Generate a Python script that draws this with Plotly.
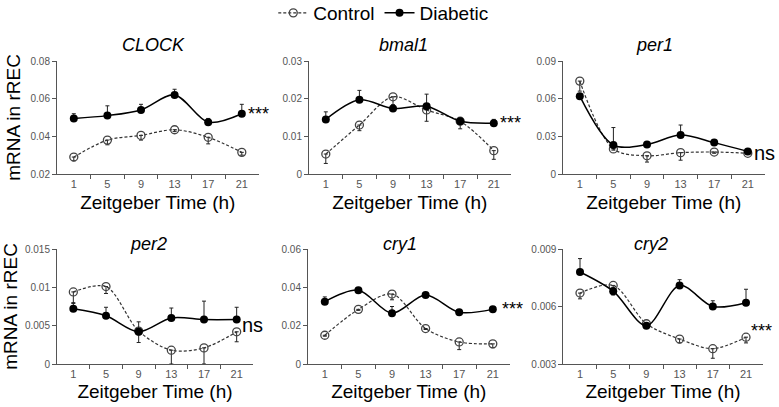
import plotly.graph_objects as go

W, H = 779, 407

zt = [1, 5, 9, 13, 17, 21]
genes = ["CLOCK", "bmal1", "per1", "per2", "cry1", "cry2"]

clock_diab = [0.0495, 0.051, 0.054, 0.062, 0.0475, 0.052]
clock_diab_err = [0.0025, 0.0052, 0.003, 0.003, 0.002, 0.005]
clock_ctrl = [0.029, 0.038, 0.0405, 0.0435, 0.0395, 0.0315]
clock_ctrl_err = [0.002, 0.0025, 0.0025, 0.001, 0.0035, 0.0015]

bmal1_diab = [0.0145, 0.0197, 0.0174, 0.018, 0.014, 0.0135]
bmal1_diab_err = [0.002, 0.0025, 0.001, 0.0032, 0.0005, 0.001]
bmal1_ctrl = [0.0053, 0.013, 0.0205, 0.017, 0.014, 0.0062]
bmal1_ctrl_err = [0.0025, 0.0015, 0.003, 0.003, 0.002, 0.0023]

per1_diab = [0.062, 0.023, 0.0235, 0.031, 0.025, 0.018]
per1_diab_err = [0.001, 0.014, 0.001, 0.008, 0.001, 0.001]
per1_ctrl = [0.074, 0.020, 0.0145, 0.017, 0.0175, 0.0165]
per1_ctrl_err = [0.008, 0.001, 0.005, 0.006, 0.001, 0.001]

per2_diab = [0.0072, 0.0063, 0.0042, 0.0060, 0.0058, 0.0058]
per2_diab_err = [0.0008, 0.0011, 0.0013, 0.0013, 0.0024, 0.0016]
per2_ctrl = [0.0094, 0.0101, 0.0043, 0.0018, 0.0021, 0.0042]
per2_ctrl_err = [0.0015, 0.0009, 0.0015, 0.0018, 0.0021, 0.0013]

cry1_diab = [0.0325, 0.0385, 0.0265, 0.036, 0.027, 0.0285]
cry1_diab_err = [0.0025, 0.001, 0.0035, 0.0005, 0.0005, 0.0005]
cry1_ctrl = [0.015, 0.0285, 0.0365, 0.0185, 0.0115, 0.0105]
cry1_ctrl_err = [0.0005, 0.0005, 0.003, 0.0005, 0.004, 0.002]

cry2_diab = [0.0078, 0.0068, 0.0050, 0.0071, 0.0060, 0.0062]
cry2_diab_err = [0.0007, 0.0002, 0.0001, 0.0003, 0.0003, 0.0007]
cry2_ctrl = [0.0067, 0.0071, 0.0051, 0.0043, 0.0038, 0.0044]
cry2_ctrl_err = [0.0003, 0.0005, 0.0001, 0.0002, 0.0005, 0.0003]

y_ticks = [
    ([0.02, 0.04, 0.06, 0.08], ["0.02", "0.04", "0.06", "0.08"]),
    ([0, 0.01, 0.02, 0.03], ["0", "0.01", "0.02", "0.03"]),
    ([0, 0.03, 0.06, 0.09], ["0", "0.03", "0.06", "0.09"]),
    ([0, 0.005, 0.01, 0.015], ["0", "0.005", "0.01", "0.015"]),
    ([0, 0.02, 0.04, 0.06], ["0", "0.02", "0.04", "0.06"]),
    ([0.003, 0.006, 0.009], ["0.003", "0.006", "0.009"]),
]
sig_labels = ["***", "***", "ns", "ns", "***", "***"]

diab = [clock_diab, bmal1_diab, per1_diab, per2_diab, cry1_diab, cry2_diab]
diab_err = [clock_diab_err, bmal1_diab_err, per1_diab_err, per2_diab_err, cry1_diab_err, cry2_diab_err]
ctrl = [clock_ctrl, bmal1_ctrl, per1_ctrl, per2_ctrl, cry1_ctrl, cry2_ctrl]
ctrl_err = [clock_ctrl_err, bmal1_ctrl_err, per1_ctrl_err, per2_ctrl_err, cry1_ctrl_err, cry2_ctrl_err]

# layout in pixels (left, right, top, bottom)
boxes = [
    (57, 258.6, 61, 174), (309, 510.6, 61, 174), (563, 764.6, 61, 174),
    (57, 253, 249, 364), (308, 509.6, 249, 364), (563.4, 762.6, 249, 364),
]
title_pos = [(153, 45), (403, 45), (654, 45), (148, 244), (400, 244), (651, 244)]
sig_pos = [(247, 0.052), (499, 0.0135), (753, 0.0167), (241, 0.0051), (501, 0.0285), (750, 0.0047)]

FONT = "Liberation Sans, Arial, sans-serif"
fig = go.Figure()
layout = dict(
    width=W, height=H, margin=dict(l=0, r=0, t=0, b=0, autoexpand=False),
    paper_bgcolor="white", plot_bgcolor="white",
    font=dict(family=FONT, color="black"),
    showlegend=True,
    legend=dict(orientation="h", xref="container", yref="container",
                x=0.492, xanchor="center", y=1 - 13 / H, yanchor="middle",
                font=dict(size=19, family=FONT), itemwidth=30, tracegroupgap=0,
                bgcolor="rgba(0,0,0,0)"),
)
annotations = []

for i, g in enumerate(genes):
    n = i + 1
    xa = "x" if n == 1 else f"x{n}"
    ya = "y" if n == 1 else f"y{n}"
    l, r, t, b = boxes[i]
    yv, yt = y_ticks[i]
    fig.add_trace(go.Scatter(
        x=zt, y=ctrl[i], xaxis=xa, yaxis=ya, name="Control", showlegend=(i == 0),
        mode="lines+markers", line=dict(color="#333333", width=1.2, dash="3px,2px", shape="spline", smoothing=0.9),
        marker=dict(symbol="circle-open", size=8, color="#444444", line=dict(width=1.3)),
        error_y=dict(type="data", symmetric=False, array=[0] * 6, arrayminus=ctrl_err[i],
                     color="#222222", thickness=1, width=2),
        cliponaxis=False,
    ))
    fig.add_trace(go.Scatter(
        x=zt, y=diab[i], xaxis=xa, yaxis=ya, name="Diabetic", showlegend=(i == 0),
        mode="lines+markers", line=dict(color="black", width=1.5, shape="spline", smoothing=0.9),
        marker=dict(symbol="circle", size=8, color="black"),
        error_y=dict(type="data", symmetric=False, array=diab_err[i], arrayminus=[0] * 6,
                     color="#222222", thickness=1, width=2),
        cliponaxis=False,
    ))
    xkey = "xaxis" if n == 1 else f"xaxis{n}"
    ykey = "yaxis" if n == 1 else f"yaxis{n}"
    layout[xkey] = dict(
        domain=[l / W, r / W], anchor=ya, range=[-1, 23],
        tickvals=zt, ticktext=[str(v) for v in zt], ticks="",
        tickfont=dict(size=11, color="#555555", family=FONT),
        showline=True, linecolor="#555555", linewidth=1, showgrid=False, zeroline=False,
        minor=dict(tickvals=[3, 7, 11, 15, 19], ticks="outside", ticklen=4, tickcolor="#555555", showgrid=False),
        title=dict(text="Zeitgeber Time (h)", font=dict(size=19, family=FONT), standoff=6 if i < 3 else 5),
    )
    layout[ykey] = dict(
        domain=[1 - b / H, 1 - t / H], anchor=xa, range=[yv[0], yv[-1]],
        tickvals=yv, ticktext=yt, ticks="outside", ticklen=4, tickcolor="#555555",
        tickfont=dict(size=10, color="#555555", family=FONT),
        showline=True, linecolor="#555555", linewidth=1, showgrid=False, zeroline=False,
    )
    if i in (0, 3):
        layout[ykey]["title"] = dict(text="mRNA in rREC", font=dict(size=19, family=FONT), standoff=4)
    tx, ty = title_pos[i]
    annotations.append(dict(text=f"<i>{g}</i>", x=tx / W, y=1 - ty / H, xref="paper", yref="paper",
                            xanchor="center", yanchor="middle", showarrow=False,
                            font=dict(size=18, family=FONT)))
    sx, sy = sig_pos[i]
    lab = sig_labels[i]
    annotations.append(dict(text=lab, x=sx / W, y=sy, xref="paper", yref=ya,
                            xanchor="left", yanchor="middle", showarrow=False, borderpad=0,
                            font=dict(size=18 if lab == "***" else 20, family=FONT)))

layout["annotations"] = annotations
fig.update_layout(**layout)
fig.write_html("out.html", config={"displayModeBar": False},
               post_script="document.body.style.margin='0';")
